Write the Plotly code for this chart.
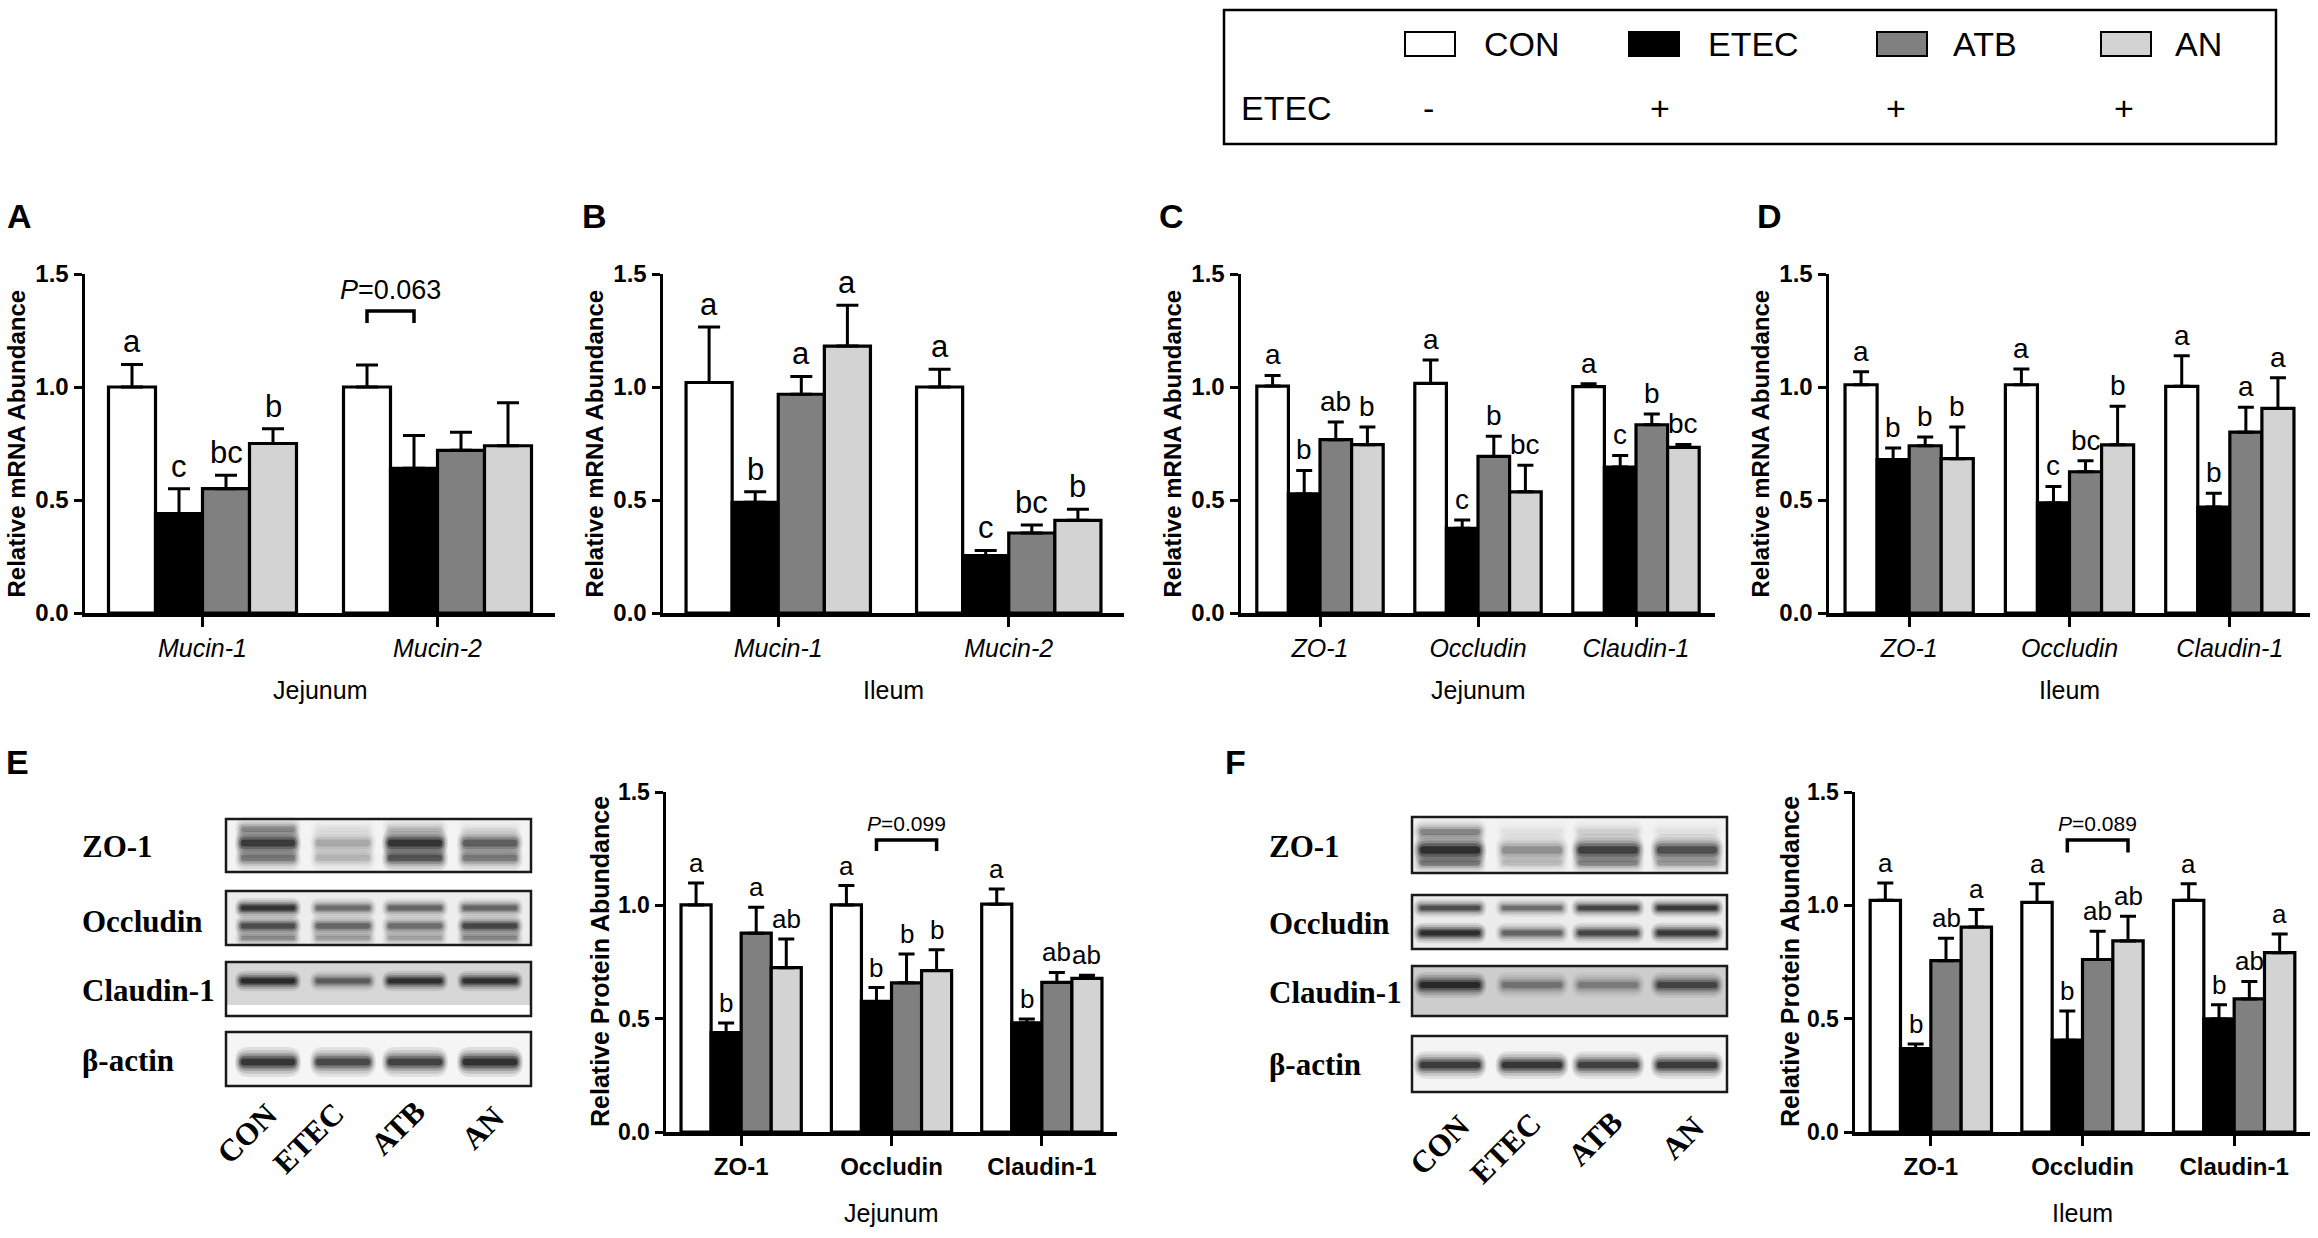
import plotly.graph_objects as go

W, H = 2318, 1238


def fx(p):
    return p / W


def fy(p):
    return 1 - p / H


GROUPS = ["CON", "ETEC", "ATB", "AN"]
COLORS = ["#ffffff", "#000000", "#808080", "#d3d3d3"]
SANS = "Liberation Sans, Arial, sans-serif"
SERIF = "Liberation Serif, Times New Roman, serif"

# ---------------- data ----------------
# Panel A: mRNA, jejunum
A_cats = ["Mucin-1", "Mucin-2"]
A_CON = [1.00, 1.00]
A_ETEC = [0.44, 0.64]
A_ATB = [0.55, 0.72]
A_AN = [0.75, 0.74]
A_CON_se = [0.10, 0.097]
A_ETEC_se = [0.11, 0.145]
A_ATB_se = [0.06, 0.08]
A_AN_se = [0.065, 0.19]
A_letters = [["a", ""], ["c", ""], ["bc", ""], ["b", ""]]

# Panel B: mRNA, ileum
B_cats = ["Mucin-1", "Mucin-2"]
B_CON = [1.02, 1.00]
B_ETEC = [0.49, 0.254]
B_ATB = [0.968, 0.354]
B_AN = [1.181, 0.41]
B_CON_se = [0.245, 0.079]
B_ETEC_se = [0.047, 0.023]
B_ATB_se = [0.079, 0.035]
B_AN_se = [0.181, 0.049]
B_letters = [["a", "a"], ["b", "c"], ["a", "bc"], ["a", "b"]]

# Panel C: mRNA, jejunum
C_cats = ["ZO-1", "Occludin", "Claudin-1"]
C_CON = [1.004, 1.016, 1.002]
C_ETEC = [0.527, 0.375, 0.646]
C_ATB = [0.767, 0.693, 0.833]
C_AN = [0.745, 0.536, 0.733]
C_CON_se = [0.047, 0.103, 0.012]
C_ETEC_se = [0.104, 0.037, 0.051]
C_ATB_se = [0.078, 0.089, 0.047]
C_AN_se = [0.078, 0.118, 0.013]
C_letters = [["a", "a", "a"], ["b", "c", "c"], ["ab", "b", "b"], ["b", "bc", "bc"]]

# Panel D: mRNA, ileum
D_cats = ["ZO-1", "Occludin", "Claudin-1"]
D_CON = [1.01, 1.01, 1.003]
D_ETEC = [0.679, 0.487, 0.469]
D_ATB = [0.74, 0.625, 0.80]
D_AN = [0.683, 0.744, 0.905]
D_CON_se = [0.058, 0.07, 0.135]
D_ETEC_se = [0.051, 0.073, 0.061]
D_ATB_se = [0.039, 0.049, 0.11]
D_AN_se = [0.14, 0.171, 0.136]
D_letters = [["a", "a", "a"], ["b", "c", "b"], ["b", "bc", "a"], ["b", "b", "a"]]

# Panel E: protein, jejunum
E_cats = ["ZO-1", "Occludin", "Claudin-1"]
E_CON = [1.002, 1.002, 1.005]
E_ETEC = [0.438, 0.576, 0.481]
E_ATB = [0.877, 0.658, 0.66]
E_AN = [0.725, 0.712, 0.678]
E_CON_se = [0.097, 0.085, 0.067]
E_ETEC_se = [0.043, 0.061, 0.018]
E_ATB_se = [0.115, 0.127, 0.044]
E_AN_se = [0.126, 0.092, 0.014]
E_letters = [["a", "a", "a"], ["b", "b", "b"], ["a", "b", "ab"], ["ab", "b", "ab"]]

# Panel F: protein, ileum
F_cats = ["ZO-1", "Occludin", "Claudin-1"]
F_CON = [1.022, 1.013, 1.022]
F_ETEC = [0.368, 0.405, 0.499]
F_ATB = [0.756, 0.761, 0.587]
F_AN = [0.904, 0.843, 0.791]
F_CON_se = [0.076, 0.082, 0.073]
F_ETEC_se = [0.02, 0.129, 0.062]
F_ATB_se = [0.099, 0.125, 0.077]
F_AN_se = [0.078, 0.109, 0.082]
F_letters = [["a", "a", "a"], ["b", "b", "b"], ["ab", "ab", "ab"], ["a", "ab", "a"]]

Y_TICKS = [0, 0.5, 1.0, 1.5]
Y_TICK_TEXT = ["0.0", "0.5", "1.0", "1.5"]

# western blot band intensities (0 = none, 1 = darkest), lanes CON, ETEC, ATB, AN
E_ZO1 = [0.85, 0.25, 0.90, 0.60]
E_ZO1_LOWER = [0.45, 0.20, 0.65, 0.45]
E_ZO1_UPPER = [0.35, 0.05, 0.15, 0.05]
E_OCC_UP = [0.90, 0.50, 0.55, 0.55]
E_OCC_LO = [0.70, 0.55, 0.50, 0.75]
E_CLDN = [0.95, 0.55, 0.90, 0.90]
E_ACTB = [0.90, 0.75, 0.80, 0.95]
F_ZO1 = [0.95, 0.35, 0.80, 0.70]
F_ZO1_LOWER = [0.40, 0.15, 0.35, 0.25]
F_ZO1_UPPER = [0.40, 0.05, 0.10, 0.05]
F_OCC_UP = [0.70, 0.50, 0.75, 0.85]
F_OCC_LO = [0.95, 0.55, 0.75, 0.85]
F_CLDN = [0.95, 0.40, 0.35, 0.70]
F_ACTB = [0.85, 0.90, 0.80, 0.85]
BLOT_ROWS = ["ZO-1", "Occludin", "Claudin-1", "β-actin"]

# ---------------- panels ----------------
panels = [
    dict(letter="A", cats=A_cats, means=[A_CON, A_ETEC, A_ATB, A_AN],
         ses=[A_CON_se, A_ETEC_se, A_ATB_se, A_AN_se], letters=A_letters,
         xdom=(85, 555), ydom=(274, 613), top=True, region="Jejunum",
         ytitle="Relative mRNA Abundance", ytx=16, lx=5, ly=216, capw=11, lsize=31,
         bracket=dict(cat=1, k0=0, k1=1, top=1.336, leg=1.283, text="<i>P</i>=0.063", size=27, shift=4)),
    dict(letter="B", cats=B_cats, means=[B_CON, B_ETEC, B_ATB, B_AN],
         ses=[B_CON_se, B_ETEC_se, B_ATB_se, B_AN_se], letters=B_letters,
         xdom=(663, 1124), ydom=(274, 613), top=True, region="Ileum",
         ytitle="Relative mRNA Abundance", ytx=594, lx=580, ly=216, capw=11, lsize=31,
         bracket=None),
    dict(letter="C", cats=C_cats, means=[C_CON, C_ETEC, C_ATB, C_AN],
         ses=[C_CON_se, C_ETEC_se, C_ATB_se, C_AN_se], letters=C_letters,
         xdom=(1241, 1715), ydom=(274, 613), top=True, region="Jejunum",
         ytitle="Relative mRNA Abundance", ytx=1172, lx=1157, ly=216, capw=8, lsize=28,
         bracket=None),
    dict(letter="D", cats=D_cats, means=[D_CON, D_ETEC, D_ATB, D_AN],
         ses=[D_CON_se, D_ETEC_se, D_ATB_se, D_AN_se], letters=D_letters,
         xdom=(1829, 2310), ydom=(274, 613), top=True, region="Ileum",
         ytitle="Relative mRNA Abundance", ytx=1760, lx=1755, ly=216, capw=8, lsize=28,
         bracket=None),
    dict(letter="E", cats=E_cats, means=[E_CON, E_ETEC, E_ATB, E_AN],
         ses=[E_CON_se, E_ETEC_se, E_ATB_se, E_AN_se], letters=E_letters,
         xdom=(666, 1117), ydom=(792, 1132), top=False, region="Jejunum",
         ytitle="Relative Protein Abundance", ytx=600, lx=4, ly=762, capw=8, lsize=26,
         bracket=dict(cat=1, k0=1, k1=3, top=1.288, leg=1.240, text="<i>P</i>=0.099", size=21, shift=3)),
    dict(letter="F", cats=F_cats, means=[F_CON, F_ETEC, F_ATB, F_AN],
         ses=[F_CON_se, F_ETEC_se, F_ATB_se, F_AN_se], letters=F_letters,
         xdom=(1855, 2310), ydom=(792, 1132), top=False, region="Ileum",
         ytitle="Relative Protein Abundance", ytx=1790, lx=1223, ly=762, capw=8, lsize=26,
         bracket=dict(cat=1, k0=1, k1=3, top=1.288, leg=1.233, text="<i>P</i>=0.089", size=21, shift=3)),
]

fig = go.Figure()
annotations = []
shapes = []
layout_axes = {}

for idx, p in enumerate(panels, start=1):
    xa = "x" if idx == 1 else f"x{idx}"
    ya = "y" if idx == 1 else f"y{idx}"
    n = len(p["cats"])
    xs = list(range(n))
    for k in range(4):
        fig.add_trace(go.Bar(
            x=xs, y=p["means"][k], xaxis=xa, yaxis=ya, name=GROUPS[k],
            marker=dict(color=COLORS[k], line=dict(color="black", width=3.2)),
            error_y=dict(type="data", array=p["ses"][k], arrayminus=[0] * n,
                         symmetric=False, color="black", thickness=3, width=p["capw"]),
            showlegend=False, hoverinfo="skip"))
        for i in range(n):
            lab = p["letters"][k][i]
            if lab:
                annotations.append(dict(
                    x=i + (k - 1.5) * 0.2, y=p["means"][k][i] + p["ses"][k][i],
                    xref=xa, yref=ya, text=lab, showarrow=False,
                    xanchor="center", yanchor="bottom", yshift=3,
                    font=dict(family=SANS, size=p["lsize"], color="black")))
    b = p["bracket"]
    if b:
        x0 = b["cat"] + (b["k0"] - 1.5) * 0.2
        x1 = b["cat"] + (b["k1"] - 1.5) * 0.2
        fig.add_trace(go.Scatter(
            x=[x0, x0, x1, x1], y=[b["leg"], b["top"], b["top"], b["leg"]],
            xaxis=xa, yaxis=ya, mode="lines", line=dict(color="black", width=3.5),
            showlegend=False, hoverinfo="skip", cliponaxis=False))
        annotations.append(dict(
            x=(x0 + x1) / 2, y=b["top"], xref=xa, yref=ya, text=b["text"],
            showarrow=False, xanchor="center", yanchor="bottom", yshift=b["shift"],
            font=dict(family=SANS, size=b["size"], color="black")))

    if p["top"]:
        ticktext = [f"<i>{c}</i>" for c in p["cats"]]
        xtickfont = dict(family=SANS, size=25, color="black")
        ytickfont = dict(family=SANS, size=24, color="black", weight="bold")
        standoff = 0
        region_y = 690
        ytfont = dict(family=SANS, size=24, color="black", weight="bold")
    else:
        ticktext = p["cats"]
        xtickfont = dict(family=SANS, size=24, color="black", weight="bold")
        ytickfont = dict(family=SANS, size=23, color="black", weight="bold")
        standoff = 1
        region_y = 1213
        ytfont = dict(family=SANS, size=25, color="black", weight="bold")

    xkey = "xaxis" if idx == 1 else f"xaxis{idx}"
    ykey = "yaxis" if idx == 1 else f"yaxis{idx}"
    layout_axes[xkey] = dict(
        domain=[fx(p["xdom"][0]), fx(p["xdom"][1])], anchor=ya, automargin=False,
        range=[-0.5, n - 0.5], tickvals=xs, ticktext=ticktext, tickfont=xtickfont,
        ticks="outside", ticklen=10, tickwidth=3, tickcolor="black",
        showline=True, linewidth=3.5, linecolor="black", showgrid=False,
        zeroline=False, fixedrange=True, ticklabelstandoff=standoff)
    layout_axes[ykey] = dict(
        domain=[fy(p["ydom"][1]), fy(p["ydom"][0])], anchor=xa, automargin=False,
        range=[0, 1.5], tickvals=Y_TICKS, ticktext=Y_TICK_TEXT, tickfont=ytickfont,
        ticks="outside", ticklen=8, tickwidth=3, tickcolor="black",
        showline=True, linewidth=3.5, linecolor="black", showgrid=False,
        zeroline=False, fixedrange=True)

    # y title
    annotations.append(dict(
        x=fx(p["ytx"]), y=fy((p["ydom"][0] + p["ydom"][1]) / 2), xref="paper", yref="paper",
        text=p["ytitle"], textangle=-90, showarrow=False, xanchor="center", yanchor="middle",
        font=ytfont))
    # region label
    annotations.append(dict(
        x=fx((p["xdom"][0] + p["xdom"][1]) / 2), y=fy(region_y), xref="paper", yref="paper",
        text=p["region"], showarrow=False, xanchor="center", yanchor="middle",
        font=dict(family=SANS, size=25, color="black")))
    # panel letter
    annotations.append(dict(
        x=fx(p["lx"]), y=fy(p["ly"]), xref="paper", yref="paper", text=p["letter"],
        showarrow=False, xanchor="left", yanchor="middle",
        font=dict(family=SANS, size=34, color="black", weight="bold")))

# ---------------- legend box ----------------
shapes.append(dict(type="rect", xref="paper", yref="paper",
                   x0=fx(1224), x1=fx(2276), y0=fy(144), y1=fy(10),
                   line=dict(color="black", width=2.5), fillcolor="rgba(0,0,0,0)"))
leg_x = [1405, 1629, 1877, 2101]
leg_tx = [1482, 1706, 1951, 2173]
sign_x = [1428, 1660, 1896, 2124]
ETEC_SIGNS = ["-", "+", "+", "+"]
for k in range(4):
    shapes.append(dict(type="rect", xref="paper", yref="paper",
                       x0=fx(leg_x[k]), x1=fx(leg_x[k] + 50), y0=fy(56), y1=fy(32),
                       line=dict(color="black", width=2), fillcolor=COLORS[k]))
    annotations.append(dict(x=fx(leg_tx[k]), y=fy(44), xref="paper", yref="paper",
                            text=GROUPS[k], showarrow=False, xanchor="left", yanchor="middle",
                            font=dict(family=SANS, size=34, color="black")))
    annotations.append(dict(x=fx(sign_x[k]), y=fy(108), xref="paper", yref="paper",
                            text=ETEC_SIGNS[k], showarrow=False, xanchor="center", yanchor="middle",
                            font=dict(family=SANS, size=34, color="black")))
annotations.append(dict(x=fx(1239), y=fy(108), xref="paper", yref="paper",
                        text="ETEC", showarrow=False, xanchor="left", yanchor="middle",
                        font=dict(family=SANS, size=34, color="black")))


# ---------------- western blots ----------------
def rrect_path(x0, x1, y0, y1):
    h = y1 - y0
    r = min(h / 2.0, (x1 - x0) * 0.2)
    ym = (y0 + y1) / 2.0
    pts = [
        ("M", [(x0 + r, y0)]),
        ("L", [(x1 - r, y0)]),
        ("Q", [(x1, y0), (x1, ym)]),
        ("Q", [(x1, y1), (x1 - r, y1)]),
        ("L", [(x0 + r, y1)]),
        ("Q", [(x0, y1), (x0, ym)]),
        ("Q", [(x0, y0), (x0 + r, y0)]),
    ]
    s = ""
    for cmd, coords in pts:
        s += cmd + " ".join(f"{fx(a):.5f},{fy(b):.5f}" for a, b in coords) + " "
    return s + "Z"


BAND_LAYERS = [(1.14, 2.3, 0.10), (1.10, 1.8, 0.14), (1.05, 1.35, 0.22),
               (1.00, 0.95, 0.35), (0.94, 0.55, 0.55)]


def add_band(cx, cy, w, h, inten):
    if inten <= 0:
        return
    for fw, fh, op in BAND_LAYERS:
        ww, hh = w * fw, h * fh
        shapes.append(dict(type="path", xref="paper", yref="paper",
                           path=rrect_path(cx - ww / 2, cx + ww / 2, cy - hh / 2, cy + hh / 2),
                           fillcolor="black", opacity=min(1.0, op * inten),
                           line=dict(width=0)))


def add_blot(boxes, bgs, lanes, bw, rows, label_x, label_y, lane_lab):
    for (x0, x1, y0, y1), bg in zip(boxes, bgs):
        for (yy0, yy1, col) in bg:
            shapes.append(dict(type="rect", xref="paper", yref="paper",
                               x0=fx(x0), x1=fx(x1), y0=fy(yy1), y1=fy(yy0),
                               fillcolor=col, line=dict(width=0)))
    for row in rows:
        cy, h, vals = row
        for li, v in enumerate(vals):
            add_band(lanes[li], cy, bw, h, v)
    for (x0, x1, y0, y1) in boxes:
        shapes.append(dict(type="rect", xref="paper", yref="paper",
                           x0=fx(x0), x1=fx(x1), y0=fy(y1), y1=fy(y0),
                           fillcolor="rgba(0,0,0,0)", line=dict(color="#1a1a1a", width=2.5)))
    for name, ly in zip(BLOT_ROWS, label_y):
        annotations.append(dict(x=fx(label_x), y=fy(ly), xref="paper", yref="paper",
                                text=name, showarrow=False, xanchor="left", yanchor="middle",
                                font=dict(family=SERIF, size=31, color="black", weight="bold")))
    for g, (lx, lyy) in zip(GROUPS, lane_lab):
        annotations.append(dict(x=fx(lx), y=fy(lyy), xref="paper", yref="paper",
                                text=g, showarrow=False, textangle=-45,
                                xanchor="center", yanchor="middle",
                                font=dict(family=SERIF, size=31, color="black", weight="bold")))


E_boxes = [(226, 531, 819, 872), (226, 531, 891, 945), (226, 531, 962, 1016), (226, 531, 1032, 1086)]
E_bgs = [[(819, 872, "#f3f3f3")], [(891, 945, "#ededed")],
         [(962, 1005, "#d7d7d7"), (1005, 1016, "#ffffff")], [(1032, 1086, "#f5f5f5")]]
E_lanes = [268, 343, 415, 490]
add_blot(E_boxes, E_bgs, E_lanes, 58,
         [(843, 13, E_ZO1), (858, 12, E_ZO1_LOWER), (829, 11, E_ZO1_UPPER),
          (908, 9, E_OCC_UP), (926, 10, E_OCC_LO), (938, 8, [v * 0.5 for v in E_OCC_LO]),
          (981, 9, E_CLDN), (1062, 13, E_ACTB)],
         80, [847, 921, 990, 1060],
         [(247, 1133), (308, 1138), (397, 1128), (482, 1128)])

F_boxes = [(1412, 1727, 817, 873), (1412, 1727, 895, 949), (1412, 1727, 966, 1016), (1412, 1727, 1036, 1092)]
F_bgs = [[(817, 873, "#f2f2f2")], [(895, 949, "#ececec")],
         [(966, 1016, "#cdcdcd")], [(1036, 1092, "#f4f4f4")]]
F_lanes = [1450, 1532, 1608, 1687]
add_blot(F_boxes, F_bgs, F_lanes, 64,
         [(850, 14, F_ZO1), (863, 10, F_ZO1_LOWER), (832, 11, F_ZO1_UPPER),
          (908, 8, F_OCC_UP), (933, 9, F_OCC_LO),
          (985, 11, F_CLDN), (1065, 12, F_ACTB)],
         1267, [847, 923, 993, 1064],
         [(1439, 1145), (1505, 1148), (1595, 1138), (1682, 1138)])

fig.update_layout(
    width=W, height=H, autosize=False,
    margin=dict(l=0, r=0, t=0, b=0, pad=0, autoexpand=False),
    paper_bgcolor="white", plot_bgcolor="white",
    barmode="group", bargap=0.2, bargroupgap=0,
    showlegend=False, annotations=annotations, shapes=shapes,
    font=dict(family=SANS, color="black"),
    **layout_axes)

fig.write_html("out.html", post_script="document.body.style.margin='0';",
               config={"displayModeBar": False, "staticPlot": True})
